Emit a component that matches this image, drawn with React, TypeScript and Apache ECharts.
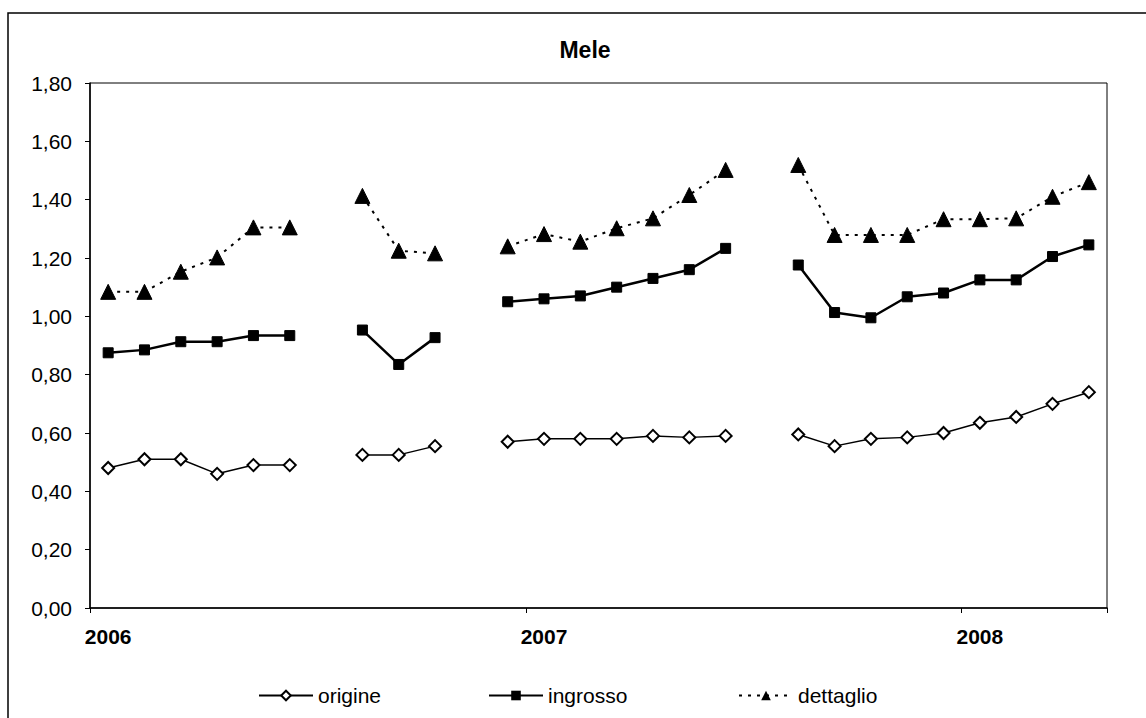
import React, { useEffect, useRef } from "react";
import * as echarts from "echarts";

const months = [
  "gen 2006", "feb 2006", "mar 2006", "apr 2006", "mag 2006", "giu 2006", "lug 2006", "ago 2006", "set 2006", "ott 2006", "nov 2006", "dic 2006",
  "gen 2007", "feb 2007", "mar 2007", "apr 2007", "mag 2007", "giu 2007", "lug 2007", "ago 2007", "set 2007", "ott 2007", "nov 2007", "dic 2007",
  "gen 2008", "feb 2008", "mar 2008", "apr 2008",
];

const origine = [0.48, 0.51, 0.51, 0.46, 0.49, 0.49, null, 0.525, 0.525, 0.555, null, 0.57, 0.58, 0.58, 0.58, 0.59, 0.585, 0.59, null, 0.595, 0.555, 0.58, 0.585, 0.60, 0.635, 0.655, 0.70, 0.74];
const ingrosso = [0.875, 0.885, 0.913, 0.913, 0.934, 0.934, null, 0.953, 0.835, 0.927, null, 1.05, 1.06, 1.07, 1.10, 1.13, 1.16, 1.233, null, 1.176, 1.013, 0.995, 1.067, 1.08, 1.125, 1.125, 1.205, 1.245];
const dettaglio = [1.084, 1.084, 1.153, 1.202, 1.305, 1.305, null, 1.413, 1.225, 1.216, null, 1.24, 1.282, 1.256, 1.302, 1.336, 1.416, 1.502, null, 1.519, 1.279, 1.279, 1.279, 1.333, 1.333, 1.336, 1.41, 1.46];

const yTicks = { min: 0, max: 1.8, interval: 0.2 };

const FONT = "'Liberation Sans', Arial, sans-serif";

export default function App() {
  const ref = useRef<HTMLDivElement>(null);
  useEffect(() => {
    if (!ref.current) return;
    const chart = echarts.init(ref.current, null, { renderer: "svg" });
    const legendBase = {
      top: 680,
      itemWidth: 54,
      itemHeight: 12,
      itemGap: 5,
      textStyle: { fontFamily: FONT, fontSize: 21, color: "#000" },
    };
    chart.setOption({
      animation: false,
      backgroundColor: "#fff",
      title: {
        text: "Mele",
        left: 580,
        textAlign: "center",
        top: 33,
        textStyle: { fontFamily: FONT, fontSize: 23, fontWeight: "bold", color: "#000" },
      },
      graphic: [
        {
          type: "rect",
          shape: { x: 8, y: 13, width: 1300, height: 900 },
          style: { fill: "none", stroke: "#000", lineWidth: 1.5 },
          silent: true,
        },
      ],
      legend: [
        { ...legendBase, left: 253, data: ["origine"] },
        { ...legendBase, left: 483, data: ["ingrosso"] },
        { ...legendBase, left: 733, data: ["dettaglio"] },
      ],
      grid: {
        left: 90,
        right: 39,
        top: 83,
        bottom: 110,
        show: true,
        borderColor: "#000",
        borderWidth: 1,
        containLabel: false,
      },
      xAxis: {
        type: "category",
        data: months,
        boundaryGap: true,
        axisLine: { show: true, lineStyle: { color: "#000", width: 1.5 } },
        axisTick: { show: true, interval: 11, length: 5, lineStyle: { color: "#000" } },
        axisLabel: {
          interval: 11,
          margin: 18,
          fontFamily: FONT,
          fontSize: 21,
          fontWeight: "bold",
          color: "#000",
          formatter: (v: string) => v.slice(-4),
        },
        splitLine: { show: false },
      },
      yAxis: {
        type: "value",
        min: yTicks.min,
        max: yTicks.max,
        interval: yTicks.interval,
        axisLine: { show: true, lineStyle: { color: "#000", width: 1.5 } },
        axisTick: { show: true, length: 5, lineStyle: { color: "#000" } },
        axisLabel: {
          margin: 18,
          fontFamily: FONT,
          fontSize: 21,
          color: "#000",
          formatter: (v: number) => v.toFixed(2).replace(".", ","),
        },
        splitLine: { show: false },
      },
      series: [
        {
          name: "origine",
          type: "line",
          data: origine,
          connectNulls: false,
          symbol: "diamond",
          symbolSize: 12,
          lineStyle: { color: "#000", width: 1.5 },
          itemStyle: { color: "#fff", borderColor: "#000", borderWidth: 2 },
        },
        {
          name: "ingrosso",
          type: "line",
          data: ingrosso,
          connectNulls: false,
          symbol: "rect",
          symbolSize: 10,
          lineStyle: { color: "#000", width: 2.5 },
          itemStyle: { color: "#000", borderColor: "#000" },
        },
        {
          name: "dettaglio",
          type: "line",
          data: dettaglio,
          connectNulls: false,
          symbol: "triangle",
          symbolSize: 15,
          lineStyle: { color: "#000", width: 2, type: [3, 6] },
          itemStyle: { color: "#000", borderColor: "#000" },
        },
      ],
    });
    return () => chart.dispose();
  }, []);
  return (
    <div
      ref={ref}
      style={{ position: "fixed", left: 0, top: 0, width: 1146, height: 718, background: "#fff" }}
    />
  );
}
